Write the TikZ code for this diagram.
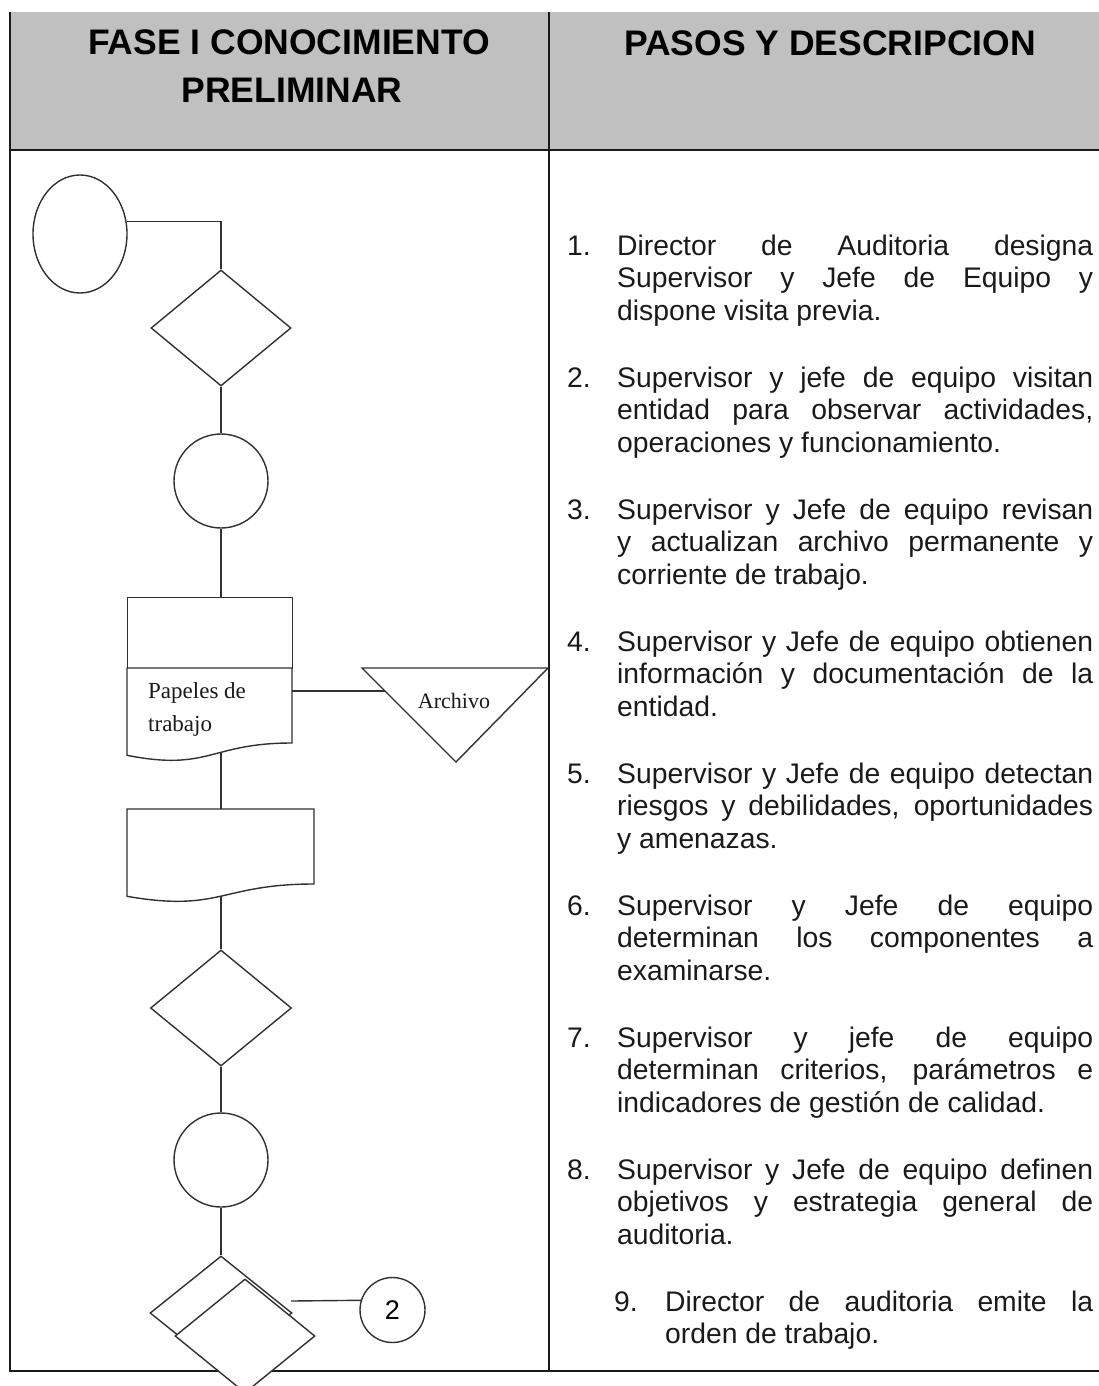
\documentclass[tikz,border=0pt]{standalone}
\usepackage{fontspec}
\setmainfont{Liberation Serif}
\setsansfont{Liberation Sans}
\usetikzlibrary{shapes.geometric}
\definecolor{headgray}{HTML}{C0C0C0}
\definecolor{ink}{HTML}{1A1A1A}
\newcommand\just[2]{\makebox[#1][s]{#2}}

\begin{document}
\begin{tikzpicture}[x=1pt,y=-1pt,
  rule/.style={draw=ink, line width=2pt},
  flow/.style={draw=ink!90, line width=1.4pt},
  fig/.style={flow, fill=white, inner sep=0pt},
  body/.style={font=\sffamily\fontsize{28.3pt}{33pt}\selectfont, inner sep=0pt, anchor=base west, text=ink},
  head/.style={font=\sffamily\bfseries\fontsize{35.5pt}{40pt}\selectfont, inner sep=0pt, anchor=base, text=black},
  lbl/.style={font=\rmfamily\fontsize{23pt}{26pt}\selectfont, inner sep=0pt, anchor=base west, text=ink},
]
\useasboundingbox (0,0) rectangle (1099,1386);

% table: grey header band and rules
\fill[headgray] (10,12) rectangle (1099,150);
\draw[rule] (10,12) -- (10,1371);
\draw[rule, line width=1.6pt] (549,12) -- (549,1371);
\draw[rule, line width=2.4pt] (9,150) -- (1099,150);
\draw[rule, line width=2.4pt] (9,1371) -- (1099,1371);

% column headings
\node[head] (h1a) at (289,55) {FASE I CONOCIMIENTO};
\node[head] (h1b) at (292,103) {PRELIMINAR};
\node[head] (h2) at (830,56) {PASOS Y DESCRIPCION};

% flowchart symbols
\node[fig, ellipse, minimum width=94pt, minimum height=118pt] (st) at (80,234) {};
\node[fig, diamond, minimum width=140pt, minimum height=116pt] (d1) at (221,328) {};
\node[fig, circle, minimum size=94pt] (c1) at (221,481) {};
\node[fig, rectangle, minimum width=165pt, minimum height=71pt, anchor=north west] (p1) at (127,597) {};
\draw[fig] (127,668) -- (292,668) -- (292,743)
  .. controls (209.5,743) and (209.5,771.6) .. (127,755.3) -- cycle;
\coordinate (doc1r) at (292,691);
\coordinate (doc1b) at (221,752.4);
\node[lbl] (pt1) at (148,698) {Papeles de};
\node[lbl] (pt2) at (148,731) {trabajo};

\draw[fig] (362,668) -- (548,668) -- (456,762) -- cycle;
\coordinate (arcl) at (385,691);
\node[lbl, anchor=base, font=\rmfamily\fontsize{22pt}{26pt}\selectfont] (arch) at (454,708) {Archivo};

\draw[fig] (127,809) -- (314,809) -- (314,884)
  .. controls (220.5,884) and (220.5,912.6) .. (127,896.3) -- cycle;
\coordinate (doc2t) at (221,809);
\coordinate (doc2b) at (221,896.2);

\node[fig, diamond, minimum width=141pt, minimum height=116pt] (d2) at (221,1008) {};
\node[fig, circle, minimum size=94pt] (c2) at (221,1160) {};
\node[fig, diamond, minimum width=142pt, minimum height=114pt] (d3) at (221,1313) {};
\node[fig, diamond, minimum width=140pt, minimum height=114pt] (d4) at (245,1336) {};
\node[fig, circle, minimum size=65pt, font=\sffamily\fontsize{27pt}{30pt}\selectfont] (n2) at (392.5,1310) {2};
\coordinate (k2) at (291,1301);

% connectors
\draw[flow] (st.15) -| (d1.north);
\draw[flow] (d1.south) -- (c1.north);
\draw[flow] (c1.south) -- (c1.south |- p1.north);
\draw[flow] (doc1r) -- (arcl);
\draw[flow] (doc1b) -- (doc2t);
\draw[flow] (doc2b) -- (d2.north);
\draw[flow] (d2.south) -- (c2.north);
\draw[flow] (c2.south) -- (d3.north);
\draw[flow] (k2) -- (n2.163);

% steps
\node[body] (n1) at (567,255) {1.};
\node[body] (s1a) at (617,255) {\just{476pt}{Director de Auditoria designa}};
\node[body] (s1b) at (617,287.8) {\just{476pt}{Supervisor y Jefe de Equipo y}};
\node[body] (s1c) at (617,320.6) {dispone visita previa.};

\node[body] (n2t) at (567,387) {2.};
\node[body] (s2a) at (617,387) {\just{476pt}{Supervisor y jefe de equipo visitan}};
\node[body] (s2b) at (617,419.8) {\just{476pt}{entidad para observar actividades,}};
\node[body] (s2c) at (617,452.6) {operaciones y funcionamiento.};

\node[body] (n3) at (567,519) {3.};
\node[body] (s3a) at (617,519) {\just{476pt}{Supervisor y Jefe de equipo revisan}};
\node[body] (s3b) at (617,551.8) {\just{476pt}{y actualizan archivo permanente y}};
\node[body] (s3c) at (617,584.6) {corriente de trabajo.};

\node[body] (n4) at (567,651) {4.};
\node[body] (s4a) at (617,651) {\just{476pt}{Supervisor y Jefe de equipo obtienen}};
\node[body] (s4b) at (617,683.8) {\just{476pt}{información y documentación de la}};
\node[body] (s4c) at (617,716.6) {entidad.};

\node[body] (n5) at (567,783) {5.};
\node[body] (s5a) at (617,783) {\just{476pt}{Supervisor y Jefe de equipo detectan}};
\node[body] (s5b) at (617,815.8) {\just{476pt}{riesgos y debilidades, oportunidades}};
\node[body] (s5c) at (617,848.6) {y amenazas.};

\node[body] (n6) at (567,915) {6.};
\node[body] (s6a) at (617,915) {\just{476pt}{Supervisor y Jefe de equipo}};
\node[body] (s6b) at (617,947.8) {\just{476pt}{determinan los componentes a}};
\node[body] (s6c) at (617,980.6) {examinarse.};

\node[body] (n7) at (567,1047) {7.};
\node[body] (s7a) at (617,1047) {\just{476pt}{Supervisor y jefe de equipo}};
\node[body] (s7b) at (617,1079.8) {\just{476pt}{determinan criterios, parámetros e}};
\node[body] (s7c) at (617,1112.6) {indicadores de gestión de calidad.};

\node[body] (n8) at (567,1179) {8.};
\node[body] (s8a) at (617,1179) {\just{476pt}{Supervisor y Jefe de equipo definen}};
\node[body] (s8b) at (617,1211.8) {\just{476pt}{objetivos y estrategia general de}};
\node[body] (s8c) at (617,1244.6) {auditoria.};

\node[body] (n9) at (614,1311) {9.};
\node[body] (s9a) at (665,1311) {\just{428pt}{Director de auditoria emite la}};
\node[body] (s9b) at (665,1343.8) {orden de trabajo.};
\end{tikzpicture}
\end{document}
